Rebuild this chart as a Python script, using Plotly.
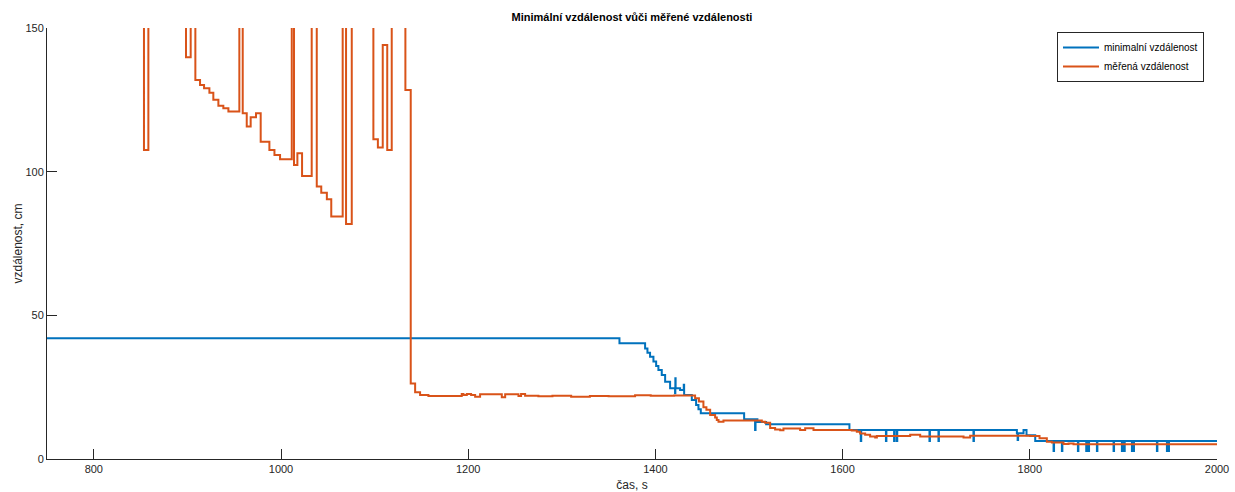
import plotly.graph_objects as go

# ---- data (time in s, distance in cm); values > 150 are off-scale ----
blue_t = [750, 1361.6, 1389.0, 1391.5, 1394.3, 1397.9, 1400.8, 1403.2, 1406.8, 1410.4,
          1415.7, 1421.0, 1421.3, 1421.6, 1426.4, 1430.3, 1430.7, 1438.9, 1443.5, 1446.0,
          1448.5, 1494.8, 1506.5, 1507.0, 1509.0, 1518.3, 1607.3,
          1619.4, 1619.9, 1646.3, 1646.8, 1655.0, 1655.5, 1657.9, 1658.4,
          1692.8, 1693.3, 1702.4, 1702.9, 1739.8, 1740.3,
          1786.2, 1787.0, 1787.5, 1793.3, 1796.5, 1805.8,
          1825.4, 1825.9, 1834.3, 1834.8, 1851.4, 1851.9, 1860.3, 1860.8, 1862.8, 1863.3,
          1871.7, 1872.2, 1889.5, 1890.0, 1898.4, 1898.9, 1900.9, 1901.4, 1909.1, 1909.6,
          1910.8, 1911.3, 1935.8, 1936.3, 1946.5, 1947.0, 1948.2, 1948.7, 2000]
blue_d = [42.0, 40.3, 38.5, 37.0, 35.6, 33.9, 32.4, 31.0, 29.2, 26.9,
          24.6, 22.9, 28.1, 24.6, 24.0, 25.8, 22.3, 20.5, 18.8, 17.3,
          15.9, 13.8, 10.1, 13.8, 12.9, 12.1, 10.1,
          6.3, 10.1, 6.3, 10.1, 6.3, 10.1, 6.3, 10.1,
          6.3, 10.1, 6.3, 10.1, 6.3, 10.1,
          9.0, 6.6, 9.0, 10.1, 8.3, 6.3,
          2.8, 6.3, 2.8, 6.3, 2.8, 6.3, 2.8, 6.3, 2.8, 6.3,
          2.8, 6.3, 2.8, 6.3, 2.8, 6.3, 2.8, 6.3, 2.8, 6.3,
          2.8, 6.3, 2.8, 6.3, 2.8, 6.3, 2.8, 6.3, 6.3]

orange_t = [750, 853.6, 858.3, 898.5, 903.5, 908.5, 913.5, 917.8, 923.5, 927.7,
            933.1, 938.4, 943.8, 955.5, 959.1, 963.4, 967.6, 973.3, 978.3, 987.6,
            993.0, 999.0, 1011.5, 1013.9, 1017.5, 1022.5, 1032.8, 1038.2, 1043.0, 1049.0,
            1053.7, 1065.9, 1069.5, 1075.6, 1098.7, 1103.5, 1108.7, 1113.5, 1118.3, 1132.9,
            1138.6, 1143.3, 1148.6, 1157.5, 1193.1, 1194.9, 1198.5, 1203.1, 1207.4, 1212.7,
            1218.1, 1235.9, 1239.5, 1243.0, 1253.7, 1256.5, 1260.8, 1275, 1290, 1310,
            1330, 1350, 1378.3, 1395, 1420, 1442.4, 1446.5, 1451.3, 1454.5, 1458.5,
            1463.8, 1465.6, 1467.4, 1472.7, 1513.7, 1517.2, 1522.6, 1527.9, 1533.3, 1536.8,
            1554.6, 1560.0, 1568.9, 1609.8, 1615.2, 1618.7, 1624.1, 1629.4, 1634.8, 1636.6,
            1672.2, 1682.9, 1715.0, 1729.2, 1736.3, 1800.4, 1810.4, 1818.2, 1823.6, 1836.0,
            1841.4, 1846.7, 2000]
orange_d = [200, 107.5, 200, 139.8, 200, 131.9, 130.2, 129.0, 127.5, 125.0,
            122.9, 122.1, 120.9, 200, 120.3, 115.7, 118.9, 120.3, 110.4, 107.5,
            105.8, 104.3, 200, 102.3, 106.4, 98.5, 200, 94.8, 92.7, 90.4,
            84.4, 200, 81.8, 200, 111.3, 108.4, 144.1, 107.5, 200, 128.4,
            26.3, 23.2, 22.3, 21.9, 22.6, 22.3, 22.6, 22.3, 21.7, 22.5,
            22.5, 21.5, 22.5, 22.5, 21.9, 22.6, 22.0, 21.8, 22.0, 21.7,
            21.9, 21.8, 22.2, 22.0, 22.1, 21.1, 20.0, 18.0, 17.1, 15.3,
            14.4, 13.6, 13.0, 13.4, 13.0, 12.6, 10.8, 10.3, 10.0, 10.6,
            10.1, 10.7, 10.1, 9.9, 9.5, 8.9, 8.4, 7.8, 7.5, 8.0,
            8.4, 7.8, 7.8, 7.5, 8.1, 8.0, 7.2, 6.0, 5.7, 5.2,
            5.4, 5.1, 5.1]

series_names = ["minimalní vzdálenost", "měřená vzdálenost"]
x_ticks = [800, 1000, 1200, 1400, 1600, 1800, 2000]
y_ticks = [0, 50, 100, 150]

AX = "#262626"
FONT = "Liberation Sans, Arial, sans-serif"

fig = go.Figure()
fig.add_trace(go.Scatter(x=blue_t, y=blue_d, mode="lines", name=series_names[0],
                         line=dict(color="#0072BD", width=2, shape="hv")))
fig.add_trace(go.Scatter(x=orange_t, y=orange_d, mode="lines", name=series_names[1],
                         line=dict(color="#D95319", width=2, shape="hv")))

fig.update_layout(
    width=1235, height=492,
    margin=dict(l=47, r=18, t=28, b=33, autoexpand=False),
    paper_bgcolor="white", plot_bgcolor="white",
    font=dict(family=FONT, size=11, color=AX),
    title=dict(text="<b>Minimální vzdálenost vůči měřené vzdálenosti</b>",
               x=0.5, xref="paper", xanchor="center", y=1 - 17 / 492, yanchor="middle",
               font=dict(family=FONT, size=11, color="#000000")),
    showlegend=True,
    legend=dict(x=(1057 - 47) / 1170, y=(459 - 32) / 431, xanchor="left", yanchor="top",
                bgcolor="white", bordercolor=AX, borderwidth=1,
                font=dict(family=FONT, size=10, color="#000000"),
                itemwidth=36, tracegroupgap=0),
)
fig.update_xaxes(range=[750, 2000], tickvals=x_ticks, ticktext=[str(v) for v in x_ticks],
                 ticks="inside", ticklen=10, tickcolor=AX, tickwidth=1,
                 showline=True, linecolor=AX, linewidth=1, mirror=False,
                 showgrid=False, zeroline=False,
                 tickfont=dict(family=FONT, size=11, color=AX),
                 title=dict(text="čas, s", font=dict(family=FONT, size=12, color=AX), standoff=6))
fig.update_yaxes(range=[0, 150], tickvals=y_ticks, ticktext=[str(v) for v in y_ticks],
                 ticks="inside", ticklen=10, tickcolor=AX, tickwidth=1,
                 showline=True, linecolor=AX, linewidth=1, mirror=False,
                 showgrid=False, zeroline=False,
                 tickfont=dict(family=FONT, size=11, color=AX),
                 title=dict(text="vzdálenost, cm", font=dict(family=FONT, size=12, color=AX), standoff=0))

fig.write_html("out.html")
